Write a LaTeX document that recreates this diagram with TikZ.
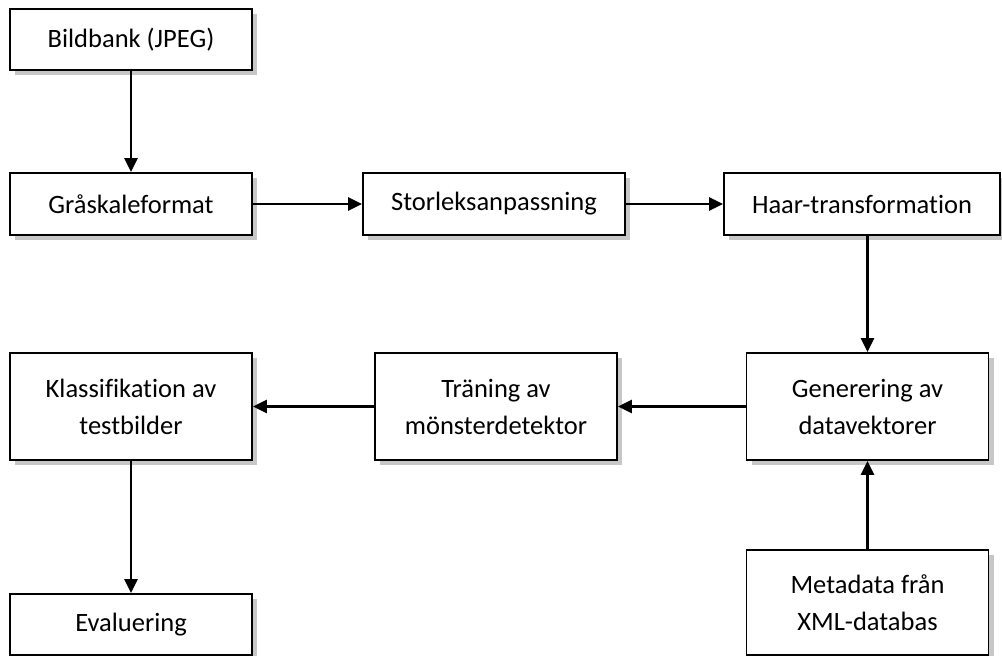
\documentclass[tikz,border=0pt]{standalone}
\usepackage{fontspec}
\setmainfont{Carlito}[Ligatures=NoCommon]
\usetikzlibrary{arrows.meta,shadows}

\begin{document}
\begin{tikzpicture}[x=1pt, y=-1pt,
    box/.style = {shape=rectangle, draw, line width=1.8pt, fill=white, align=center,
                  inner sep=0pt, minimum width=242pt, font=\fontsize{26.5}{37}\selectfont,
                  drop shadow={shadow xshift=5pt, shadow yshift=-5pt, fill=black!22, opacity=1}},
    pil/.style = {line width=2.4pt, -{Triangle[length=14pt,width=13pt]}}]
  \useasboundingbox (0,0) rectangle (1002,656);

  % first row
  \node[box, minimum height=61pt] (bild) at (131,39.5) {Bildbank (JPEG)};
  \node[box, minimum height=62pt] (gra) at (131,204) {Gråskaleformat};
  \node[box, minimum height=62pt, minimum width=262pt] (stor) at (494,204) {Storleksanpassning};
  \node[box, minimum height=62pt, minimum width=276pt] (haar) at (862,204) {Haar-transformation};

  % second row
  \node[box, minimum height=107pt] (gen) at (867.5,406.5) {Generering av\\datavektorer};
  \node[box, minimum height=107pt] (tran) at (496,406.5) {Träning av\\mönsterdetektor};
  \node[box, minimum height=107pt] (klass) at (131,406.5) {Klassifikation av\\testbilder};

  % bottom
  \node[box, minimum height=61pt] (eval) at (131,624.5) {Evaluering};
  \node[box, minimum height=105pt] (meta) at (867.5,602.5) {Metadata från\\XML-databas};

  \draw[pil] (bild) -- (gra);
  \draw[pil] (gra.east) -- (gra.east -| stor.west);
  \draw[pil] (stor.east) -- (stor.east -| haar.west);
  \draw[pil] (gen.north |- haar.south) -- (gen.north);
  \draw[pil] (gen) -- (tran);
  \draw[pil] (tran) -- (klass);
  \draw[pil] (klass) -- (eval);
  \draw[pil] (meta) -- (gen);
\end{tikzpicture}
\end{document}
